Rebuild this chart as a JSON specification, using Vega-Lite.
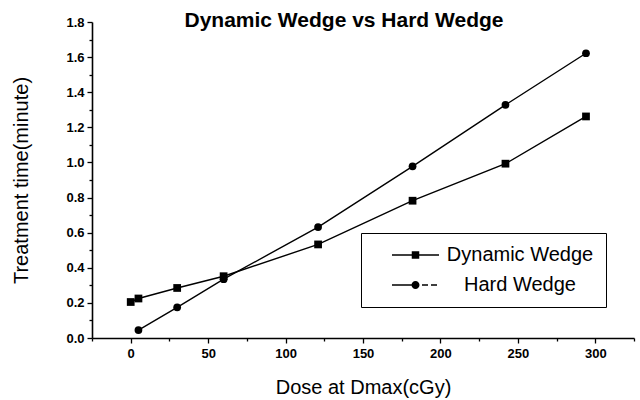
{
  "$schema": "https://vega.github.io/schema/vega-lite/v6.json",
  "autosize": {"type": "none"},
  "padding": {"left": 92, "top": 22, "right": 6, "bottom": 62},
  "width": 542,
  "height": 316,
  "background": "white",
  "title": {"text": "Dynamic Wedge vs Hard Wedge", "font": "Liberation Sans", "fontSize": 21, "fontWeight": "bold", "color": "black", "frame": "group", "anchor": "middle", "dx": -19, "dy": 22, "offset": -10, "baseline": "alphabetic"},
  "config": {
    "view": {"stroke": null},
    "axis": {"domainColor": "black", "domainWidth": 1.6, "tickColor": "black", "tickWidth": 1.3, "labelFont": "Liberation Sans", "labelFontWeight": "bold", "labelFontSize": 13, "labelColor": "black", "titleFont": "Liberation Sans", "titleFontWeight": "normal", "titleFontSize": 20, "titleColor": "black", "grid": false}
  },
  "data": {"values": [
    {"series": "Dynamic Wedge", "dose": 0, "time": 0.205},
    {"series": "Dynamic Wedge", "dose": 5, "time": 0.225},
    {"series": "Dynamic Wedge", "dose": 30, "time": 0.285},
    {"series": "Dynamic Wedge", "dose": 60, "time": 0.352},
    {"series": "Dynamic Wedge", "dose": 121, "time": 0.533},
    {"series": "Dynamic Wedge", "dose": 182, "time": 0.782},
    {"series": "Dynamic Wedge", "dose": 242, "time": 0.993},
    {"series": "Dynamic Wedge", "dose": 294, "time": 1.262},
    {"series": "Hard Wedge", "dose": 5, "time": 0.045},
    {"series": "Hard Wedge", "dose": 30, "time": 0.175},
    {"series": "Hard Wedge", "dose": 60, "time": 0.335},
    {"series": "Hard Wedge", "dose": 121, "time": 0.632},
    {"series": "Hard Wedge", "dose": 182, "time": 0.978},
    {"series": "Hard Wedge", "dose": 242, "time": 1.328},
    {"series": "Hard Wedge", "dose": 294, "time": 1.622}
  ]},
  "layer": [
    {
      "mark": {"type": "line", "color": "black", "strokeWidth": 1.4},
      "encoding": {
        "x": {"field": "dose", "type": "quantitative", "scale": {"domain": [-25, 325], "nice": false, "zero": false},
              "axis": {"title": "Dose at Dmax(cGy)", "orient": "bottom", "values": [0, 50, 100, 150, 200, 250, 300], "tickSize": 5, "labelPadding": 4, "titlePadding": 17}},
        "y": {"field": "time", "type": "quantitative", "scale": {"domain": [0, 1.8], "nice": false},
              "axis": {"title": "Treatment time(minute)", "orient": "left", "values": [0, 0.2, 0.4, 0.6, 0.8, 1.0, 1.2, 1.4, 1.6, 1.8], "format": ".1f", "tickSize": 5, "labelPadding": 3, "titlePadding": 34}},
        "detail": {"field": "series"}
      }
    },
    {
      "mark": {"type": "point", "filled": true, "color": "black", "opacity": 1, "size": 60},
      "encoding": {
        "x": {"field": "dose", "type": "quantitative",
              "axis": {"title": null, "orient": "bottom", "domain": false, "labels": false, "values": [-25, 25, 75, 125, 175, 225, 275, 325], "tickSize": 3}},
        "y": {"field": "time", "type": "quantitative",
              "axis": {"title": null, "orient": "left", "domain": false, "labels": false, "values": [0.1, 0.3, 0.5, 0.7, 0.9, 1.1, 1.3, 1.5, 1.7], "tickSize": 3}},
        "shape": {"field": "series", "type": "nominal",
                  "scale": {"domain": ["Dynamic Wedge", "Hard Wedge"], "range": ["square", "circle"]},
                  "legend": null}
      }
    },
    {
      "transform": [{"filter": "datum.dose < -1000"}],
      "mark": {"type": "point", "filled": true, "color": "black", "opacity": 1},
      "encoding": {
        "x": {"field": "dose", "type": "quantitative", "axis": null},
        "y": {"field": "time", "type": "quantitative", "axis": null},
        "shape": {"field": "series", "type": "nominal",
                  "scale": {"domain": ["Dynamic Wedge", "Hard Wedge"], "range": [
                    "M1.8,-0.15H5.8V0.15H1.8ZM5.75,-0.75H7.25V0.75H5.75ZM7.2,-0.15H11.2V0.15H7.2Z",
                    "M1.8,-0.15H5.72V0.15H1.8ZM5.7,0A0.8,0.8 0 1,1 7.3,0A0.8,0.8 0 1,1 5.7,0ZM7.8,-0.15H9V0.15H7.8ZM9.6,-0.15H10.8V0.15H9.6Z"]},
                  "legend": {"title": null, "orient": "none", "legendX": 269, "legendY": 211, "strokeColor": "black", "fillColor": "white", "padding": 12, "rowPadding": 10, "labelFont": "Liberation Sans", "labelFontSize": 20, "labelColor": "black", "labelAlign": "center", "symbolSize": 100, "symbolFillColor": "black", "symbolOpacity": 1, "labelOffset": 127, "labelLimit": 400}
        }
      }
    }
  ],
  "resolve": {"axis": {"x": "independent", "y": "independent"}, "scale": {"shape": "independent"}}
}
